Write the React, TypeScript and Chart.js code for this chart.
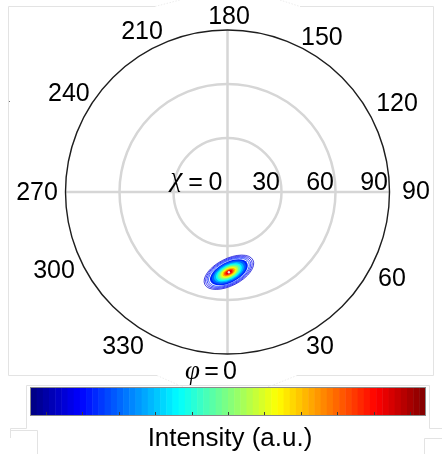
import React, { useEffect, useRef } from "react";
import { Chart, registerables } from "chart.js";
Chart.register(...registerables);

// ---------------- data ----------------
const phiTickValues = [180, 150, 120, 90, 60, 30, 0, 330, 300, 270, 240, 210];
const phiTickLabels = ["180", "150", "120", "90", "60", "30", "0", "330", "300", "270", "240", "210"];
const chiTickValues = [0, 30, 60, 90];
const chiTickLabels = ["0", "30", "60", "90"];
const chiMax = 90;
// texture pole (peak) position
const peakChi = 44.6;
const peakPhi = 1.0;
// contour levels (fraction of max intensity) and their semi-major axes (degrees)
const contourLevels = [0.03, 0.06, 0.09, 0.12, 0.16, 0.22, 0.3, 0.38, 0.46, 0.54, 0.62, 0.7, 0.8, 0.88, 0.96];
const contourSemiMajor = [15.0, 14.1, 13.2, 12.3, 11.4, 10.2, 9.0, 7.8, 6.8, 5.7, 4.7, 3.8, 2.9, 2.0, 1.1];
const contourAxisRatio = 0.5;
const contourTiltDeg = 27;
const contourFillFrom = 0.15;
// colour bar
const colorbarSteps = 64;
const colorbarTicks = [0.039, 0.131, 0.224, 0.316, 0.408, 0.5, 0.592, 0.684, 0.776, 0.869, 0.961];
const colorbarLabel = "Intensity (a.u.)";

// ---------------- layout / style ----------------
// label centre placement: [direction angle (deg, phi convention), distance from pole-figure centre (px)]
const phiLabelPlacement: [number, number][] = [
  [179.5, 175], [148.5, 180.7], [117.4, 191], [90, 188.5], [62.1, 186.1], [30.8, 180.5],
  [0, 0], [326, 186.9], [294.5, 190.6], [270.3, 190.5], [238.3, 186.4], [208.1, 181.4],
];
const FONT = "25px 'Liberation Sans', Arial, sans-serif";
const GREEK = "italic 27px 'Liberation Serif', 'DejaVu Serif', serif";
const GRID = "#d6d6d6";
const FRAME = "#e3e3e3";

function clamp01(v: number) {
  return Math.max(0, Math.min(1, v));
}
function jet(t: number) {
  const r = clamp01(1.5 - Math.abs(4 * t - 3));
  const g = clamp01(1.5 - Math.abs(4 * t - 2));
  const b = clamp01(1.5 - Math.abs(4 * t - 1));
  return `rgb(${Math.round(r * 255)},${Math.round(g * 255)},${Math.round(b * 255)})`;
}
const rad = (d: number) => (d * Math.PI) / 180;

function line(ctx: CanvasRenderingContext2D, pts: number[][]) {
  ctx.beginPath();
  pts.forEach((p, i) => (i === 0 ? ctx.moveTo(p[0], p[1]) : ctx.lineTo(p[0], p[1])));
  ctx.stroke();
}

const polePlugin = {
  id: "poleFigure",
  beforeDatasetsDraw(chart: any) {
    const ctx: CanvasRenderingContext2D = chart.ctx;
    const xs = chart.scales.x;
    const ys = chart.scales.y;
    const cx = xs.getPixelForValue(0);
    const cy = ys.getPixelForValue(0);
    const rpx = (v: number) => xs.getPixelForValue(v) - cx;
    ctx.save();

    // faint figure frames
    ctx.strokeStyle = FRAME;
    ctx.lineWidth = 1;
    line(ctx, [[155, 6.5], [8.5, 6.5], [8.5, 375.5], [157, 375.5]]);
    line(ctx, [[300, 6.5], [433.5, 6.5], [433.5, 375.5], [297, 375.5]]);
    line(ctx, [[26.5, 428.5], [26.5, 385.5], [429.5, 385.5], [429.5, 428.5], [442, 428.5]]);
    line(ctx, [[26.5, 428.5], [10.5, 428.5], [10.5, 438]]);
    line(ctx, [[10.5, 430.5], [37.5, 430.5], [37.5, 454]]);
    line(ctx, [[442, 438.5], [424.5, 438.5], [424.5, 454]]);
    ctx.strokeStyle = "#ececec";
    ctx.setLineDash([1.5, 1.5]);
    line(ctx, [[155, 6.5], [180, 0]]);
    line(ctx, [[280, 0], [300, 6.5]]);
    line(ctx, [[157, 375.5], [183, 387]]);
    line(ctx, [[268, 387], [297, 375.5]]);
    ctx.setLineDash([]);
    ctx.fillStyle = "#777";
    ctx.fillRect(9, 101, 1, 1);

    // grid circles
    ctx.strokeStyle = GRID;
    ctx.lineWidth = 2.5;
    chiTickValues.forEach((v) => {
      if (v > 0 && v < chiMax) {
        ctx.beginPath();
        ctx.arc(cx, cy, rpx(v), 0, Math.PI * 2);
        ctx.stroke();
      }
    });
    // cross lines (phi = 0/180 and 90/270)
    line(ctx, [[xs.getPixelForValue(-chiMax), cy], [xs.getPixelForValue(chiMax), cy]]);
    line(ctx, [[cx, ys.getPixelForValue(chiMax)], [cx, ys.getPixelForValue(-chiMax)]]);

    // contours of the pole
    const px = xs.getPixelForValue(peakChi * Math.sin(rad(peakPhi)));
    const py = ys.getPixelForValue(-peakChi * Math.cos(rad(peakPhi)));
    const tilt = -rad(contourTiltDeg);
    const ell = (i: number) => {
      const a = rpx(contourSemiMajor[i]);
      ctx.beginPath();
      ctx.ellipse(px, py, a, a * contourAxisRatio, tilt, 0, Math.PI * 2);
    };
    ell(0);
    ctx.fillStyle = "#fff";
    ctx.fill();
    contourLevels.forEach((lv, i) => {
      ell(i);
      if (lv < contourFillFrom) {
        ctx.strokeStyle = jet(lv + 0.05);
        ctx.lineWidth = 1;
        ctx.globalAlpha = 0.75;
        ctx.stroke();
        ctx.globalAlpha = 1;
      } else {
        ctx.fillStyle = jet(lv);
        ctx.fill();
      }
    });
    ctx.beginPath();
    ctx.arc(px, py, 1.2, 0, Math.PI * 2);
    ctx.fillStyle = "#ffd8d8";
    ctx.fill();

    // outer circle
    ctx.strokeStyle = "#1e1e1e";
    ctx.lineWidth = 1.4;
    ctx.beginPath();
    ctx.arc(cx, cy, rpx(chiMax), 0, Math.PI * 2);
    ctx.stroke();
    ctx.restore();
  },
  afterDraw(chart: any) {
    const ctx: CanvasRenderingContext2D = chart.ctx;
    const xs = chart.scales.x;
    const ys = chart.scales.y;
    const cx = xs.getPixelForValue(0);
    const cy = ys.getPixelForValue(0);
    ctx.save();
    ctx.fillStyle = "#000";

    // phi labels
    ctx.font = FONT;
    ctx.textAlign = "center";
    ctx.textBaseline = "middle";
    phiTickValues.forEach((v, i) => {
      if (v === 0) return;
      const [a, d] = phiLabelPlacement[i];
      ctx.fillText(phiTickLabels[i], cx + d * Math.sin(rad(a)), cy + d * Math.cos(rad(a)));
    });
    // phi = 0 label
    const zi = phiTickValues.indexOf(0);
    const by = cy + 187;
    ctx.textBaseline = "alphabetic";
    ctx.fillText(phiTickLabels[zi], cx + 2.5, by);
    ctx.fillText("=", cx - 16, by);
    ctx.font = GREEK;
    ctx.fillText("\u03C6", cx - 35, by);

    // chi labels along phi = 90 direction
    ctx.font = FONT;
    ctx.textAlign = "right";
    const cyb = cy - 2;
    chiTickValues.forEach((v, i) => {
      if (v === 0) return;
      ctx.fillText(chiTickLabels[i], xs.getPixelForValue(v) - 1.5, cyb);
    });
    ctx.textAlign = "center";
    ctx.fillText(chiTickLabels[0], cx - 12, cyb);
    ctx.fillText("=", cx - 32, cyb);
    ctx.font = GREEK;
    ctx.fillText("\u03C7", cx - 51, cyb - 4);

    // colour bar
    const x0 = 30.5, x1 = 425.5, y0 = 388, y1 = 415;
    const w = (x1 - x0) / colorbarSteps;
    for (let k = 0; k < colorbarSteps; k++) {
      ctx.fillStyle = jet((k + 0.5) / colorbarSteps);
      ctx.fillRect(x0 + k * w, y0, w + 0.5, y1 - y0);
    }
    ctx.strokeStyle = "#8a8a8a";
    ctx.lineWidth = 1;
    ctx.strokeRect(x0, y0 - 0.5, x1 - x0, y1 - y0 + 1);
    ctx.strokeStyle = "#3a3a3a";
    colorbarTicks.forEach((t) => {
      const tx = Math.round(x0 + t * (x1 - x0)) + 0.5;
      line(ctx, [[tx, y1], [tx, y1 - 3]]);
    });
    ctx.fillStyle = "#000";
    ctx.font = "26px 'Liberation Sans', Arial, sans-serif";
    ctx.textAlign = "center";
    ctx.textBaseline = "alphabetic";
    ctx.fillText(colorbarLabel, 230, 446);
    ctx.restore();
  },
};

export default function App() {
  const ref = useRef<HTMLCanvasElement | null>(null);
  useEffect(() => {
    if (!ref.current) return;
    const chart = new Chart(ref.current, {
      type: "scatter",
      data: {
        datasets: [
          {
            label: "pole",
            data: [{ x: peakChi * Math.sin(rad(peakPhi)), y: -peakChi * Math.cos(rad(peakPhi)) }],
            pointRadius: 0,
          },
        ],
      },
      options: {
        animation: false,
        responsive: false,
        devicePixelRatio: 1,
        layout: { padding: { left: 65.5, right: 52.5, top: 30, bottom: 100 } },
        plugins: { legend: { display: false }, tooltip: { enabled: false } },
        scales: {
          x: { type: "linear", min: -chiMax, max: chiMax, display: false },
          y: { type: "linear", min: -chiMax, max: chiMax, display: false },
        },
      },
      plugins: [polePlugin],
    });
    return () => chart.destroy();
  }, []);
  return (
    <div style={{ position: "absolute", left: 0, top: 0, width: 442, height: 454, background: "#fff" }}>
      <canvas ref={ref} width={442} height={454} style={{ display: "block", width: 442, height: 454 }} />
    </div>
  );
}
